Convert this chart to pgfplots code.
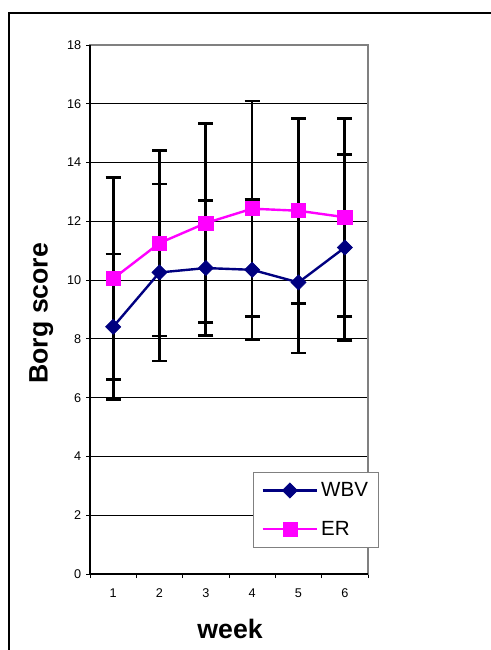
\documentclass[border=0pt]{standalone}
\usepackage{pgfplots}
\pgfplotsset{compat=1.18}
\usepackage{fontspec}
\setmainfont{Liberation Sans}
\definecolor{wbv}{RGB}{0,0,128}
\definecolor{er}{RGB}{255,0,255}
\definecolor{bordergray}{RGB}{128,128,128}
\pgfplotstableread{
week wbv wbve er ere
1 8.41 2.48 10.05 3.43
2 10.26 3.01 11.26 3.16
3 10.41 2.29 11.94 3.38
4 10.35 2.39 12.43 3.66
5 9.92 2.40 12.36 3.15
6 11.11 3.16 12.14 3.37
}\datatable
\begin{document}
\begin{tikzpicture}
\path[use as bounding box] (0,0) rectangle (368.25pt,487.5pt);
\draw[line width=1.1pt] (6.75pt,0) -- (6.75pt,477.75pt) -- (368.25pt,477.75pt);
\begin{axis}[
  at={(67.5pt,57pt)}, anchor=south west,
  scale only axis, width=208.5pt, height=396.75pt,
  xmin=0.5, xmax=6.5, ymin=0, ymax=18,
  xtick={1,...,6}, minor xtick={0.5,1.5,...,6.5},
  ytick={0,2,...,18},
  tick pos=left, tick align=outside,
  major x tick style={draw=none},
  minor tick length=3pt, major tick length=3pt,
  ymajorgrids, grid style={black, line width=0.6pt},
  axis line style={bordergray, line width=1.4pt},
  tick style={black, line width=0.6pt},
  /pgf/number format/assume math mode=true,
  ticklabel style={font=\fontsize{9.5}{11}\selectfont},
  xticklabel style={yshift=-4.5pt},
  xlabel={\textbf{week}}, ylabel={\textbf{Borg score}},
  label style={font=\fontsize{20}{24}\selectfont},
  xlabel style={at={(axis description cs:0.504,-0.104)}, anchor=center},
  ylabel style={at={(axis description cs:-0.175,0.493)}, anchor=center},
  legend style={at={(axis description cs:0.586,0.193)}, anchor=north west,
    draw=bordergray, line width=0.8pt, font=\fontsize{15.4}{18}\selectfont,
    cells={anchor=west}, row sep=13pt, inner xsep=6pt, inner ysep=5.5pt},
  legend image code/.code={\draw[mark repeat=2,mark phase=2] plot coordinates {(0pt,0pt) (20.5pt,0pt) (41pt,0pt)};},
  clip=false,
]
\addplot[draw=none, line width=2pt, forget plot, error bars/.cd, y dir=both, y explicit,
  error mark=-,
  error bar style={black, line width=2pt},
  error mark options={black, line width=2pt, mark size=5.6pt, rotate=90}]
  table[x=week, y=wbv, y error=wbve] {\datatable};
\addplot[draw=none, line width=2pt, forget plot, error bars/.cd, y dir=both, y explicit,
  error mark=-,
  error bar style={black, line width=2pt},
  error mark options={black, line width=2pt, mark size=5.6pt, rotate=90}]
  table[x=week, y=er, y error=ere] {\datatable};
\addplot[wbv, line width=1.8pt, mark=square*, mark size=4pt,
  mark options={rotate=45, line width=0.5pt}]
  table[x=week, y=wbv] {\datatable};
\addlegendentry{WBV}
\addplot[er, line width=1.8pt, mark=square*, mark size=5.3pt,
  mark options={line width=0.5pt}]
  table[x=week, y=er] {\datatable};
\addlegendentry{ER}
\draw[black, line width=1.2pt] (rel axis cs:0,1) -- (rel axis cs:0,0) -- (rel axis cs:1,0);
\end{axis}
\end{tikzpicture}
\end{document}
